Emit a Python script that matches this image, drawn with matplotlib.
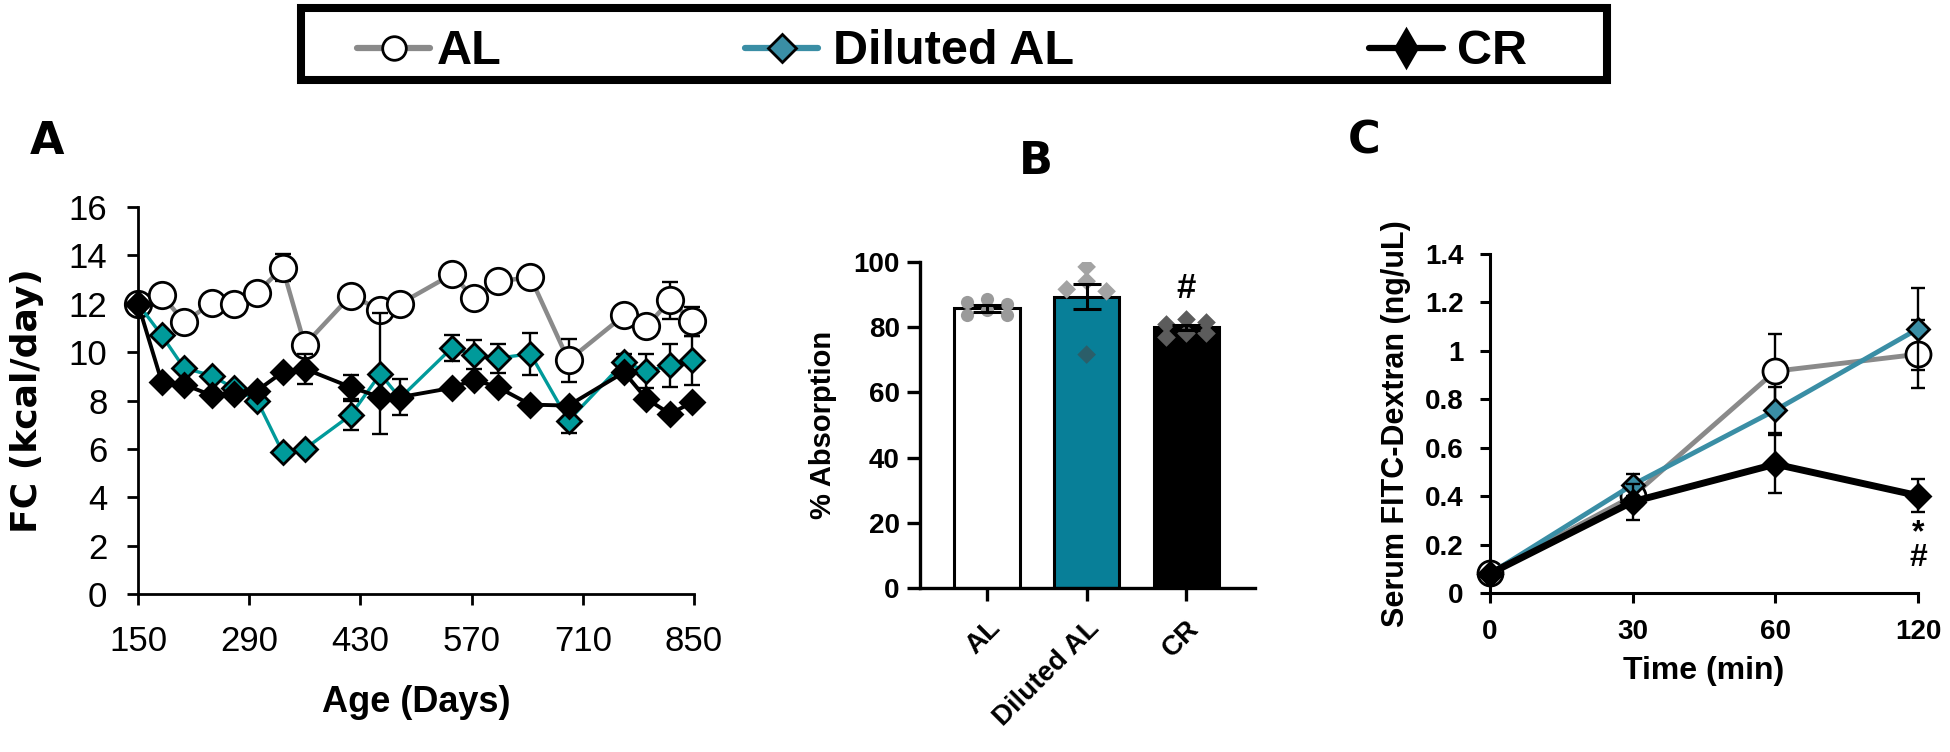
import numpy as np
import matplotlib.pyplot as plt
from matplotlib.patches import Rectangle
from matplotlib.lines import Line2D
from matplotlib.ticker import FuncFormatter

plt.rcParams['font.family'] = ['Liberation Sans', 'DejaVu Sans']
VERDANA = ['DejaVu Sans']

# ---- panel A: food consumption vs age ----
age_days = [150, 180, 208, 243, 271, 300, 332, 360, 418, 455, 480,
            545, 573, 603, 644, 692, 762, 790, 820, 848]
fc_al = [12.0, 12.37, 11.24, 12.03, 12.0, 12.46, 13.49, 10.30, 12.34, 11.75, 12.0,
         13.21, 12.25, 12.92, 13.10, 9.66, 11.52, 11.06, 12.14, 11.28]
fc_al_err = [0, 0, 0, 0, 0, 0, 0.55, 0, 0, 0, 0,
             0, 0, 0, 0, 0.9, 0, 0, 0.75, 0.6]
fc_dil = [12.0, 10.69, 9.34, 9.03, 8.5, 8.0, 5.86, 6.0, 7.4, 9.1, 8.1,
          10.17, 9.9, 9.75, 9.93, 7.17, 9.59, 9.21, 9.45, 9.66]
fc_dil_err = [0, 0, 0, 0, 0, 0, 0, 0, 0.6, 2.5, 0,
              0.54, 0.6, 0.6, 0.86, 0.5, 0.35, 0.7, 0.9, 1.0]
fc_cr = [12.0, 8.76, 8.66, 8.21, 8.28, 8.41, 9.17, 9.31, 8.55, 8.14, 8.14,
         8.52, 8.86, 8.55, 7.83, 7.79, 9.17, 8.07, 7.45, 7.93]
fc_cr_err = [0, 0, 0, 0, 0, 0, 0, 0.62, 0.5, 0, 0.75,
             0, 0, 0, 0, 0, 0, 0, 0, 0]

# ---- panel B: % absorption ----
groups = ['AL', 'Diluted AL', 'CR']
absorb_mean = [85.8, 89.3, 80.0]
absorb_sem = [1.0, 3.8, 0.8]
absorb_al_pts = [87.7, 88.8, 87.0, 83.6, 85.2, 83.6]
absorb_dil_pts = [98.5, 91.6, 94.1, 91.0, 71.6]
absorb_cr_pts = [81.1, 82.4, 81.6, 77.0, 78.2, 78.2]

# ---- panel C: FITC-dextran ----
time_labels = ['0', '30', '60', '120']
fitc_al = [0.084, 0.40, 0.916, 0.986]
fitc_al_err = [0, 0, 0.155, 0.14]
fitc_dil = [0.08, 0.447, 0.755, 1.091]
fitc_dil_err = [0, 0.045, 0.095, 0.17]
fitc_cr = [0.08, 0.377, 0.532, 0.402]
fitc_cr_err = [0, 0.075, 0.12, 0.068]

GRAY = '#8a8a8a'
TEAL_A = '#009a9a'
TEAL_C = '#3a8ea5'
TEAL_BAR = '#087f98'

W, H = 1950, 752
fig = plt.figure(figsize=(W / 100, H / 100), dpi=100)


def box(l, r, t, b):
    return [l / W, 1 - b / H, (r - l) / W, (b - t) / H]


def series(ax, x, y, err, color, marker, mfc, ms, lw, z, cap=6):
    x = np.asarray(x, float)
    y = np.asarray(y, float)
    err = np.asarray(err, float)
    ax.plot(x, y, color=color, lw=lw, zorder=z, clip_on=False)
    has = err > 0
    if has.any():
        ax.errorbar(x[has], y[has], yerr=err[has], fmt='none', ecolor='black',
                    elinewidth=1.7, capsize=cap, capthick=1.7, zorder=z + 0.5, clip_on=False)
    ax.plot(x, y, ls='none', marker=marker, mfc=mfc, mec='black', mew=2,
            ms=ms, zorder=z + 1, clip_on=False)


# ---------- A ----------
axA = fig.add_axes(box(138, 694, 207, 594))
series(axA, age_days, fc_al, fc_al_err, GRAY, 'o', 'white', 19, 3.2, 2)
series(axA, age_days, fc_dil, fc_dil_err, TEAL_A, 'D', TEAL_A, 12, 2.4, 4)
series(axA, age_days, fc_cr, fc_cr_err, 'black', 'D', 'black', 12.5, 2.8, 6)
axA.set_xlim(150, 850)
axA.set_ylim(0, 16)
axA.set_xticks(range(150, 851, 140))
axA.set_yticks(range(0, 17, 2))
for s in ['top', 'right']:
    axA.spines[s].set_visible(False)
for s in ['left', 'bottom']:
    axA.spines[s].set_linewidth(2)
axA.tick_params(direction='out', length=8, width=2, labelsize=25, pad=14)
axA.set_xlabel('Age (Days)', fontsize=26, fontweight='bold', labelpad=20)
axA.set_ylabel('FC (kcal/day)', fontsize=26, fontweight='bold', family=VERDANA, labelpad=18)

# ---------- B ----------
axB = fig.add_axes(box(920, 1255, 262, 588))
xb = np.arange(len(groups))
axB.bar(xb, absorb_mean, width=0.655, color=['white', TEAL_BAR, 'black'],
        edgecolor='black', linewidth=2.2, zorder=2)
axB.errorbar(xb, absorb_mean, yerr=absorb_sem, fmt='none', ecolor='black',
             elinewidth=2.2, capsize=10, capthick=2.2, zorder=5)
offs_al = [-0.2, 0, 0.2, -0.2, 0, 0.2]
offs_dil = [0, -0.2, 0, 0.2, 0]
offs_cr = [-0.2, 0, 0.2, -0.2, 0, 0.2]
axB.scatter(xb[0] + np.array(offs_al), absorb_al_pts, s=90, marker='o',
            color='#9a9a9a', zorder=4, linewidths=0)
dil_cols = ['#a3a3a3' if v > absorb_mean[1] else '#2b5e69' for v in absorb_dil_pts]
axB.scatter(xb[1] + np.array(offs_dil), absorb_dil_pts, s=90, marker='D',
            color=dil_cols, zorder=4, linewidths=0)
axB.scatter(xb[2] + np.array(offs_cr), absorb_cr_pts, s=90, marker='D',
            color='#5c5c5c', zorder=4, linewidths=0)
axB.text(xb[2], 92, '#', ha='center', va='center', fontsize=25, fontweight='bold')
axB.set_xlim(-0.673, 2.69)
axB.set_ylim(0, 100)
axB.set_yticks(range(0, 101, 20))
axB.set_xticks(xb)
axB.set_xticklabels(groups, rotation=45, ha='right', va='top', rotation_mode='anchor',
                    fontsize=22, fontweight='bold')
for s in ['top', 'right']:
    axB.spines[s].set_visible(False)
for s in ['left', 'bottom']:
    axB.spines[s].set_linewidth(2.4)
axB.tick_params(direction='out', length=9.5, width=2.4, labelsize=20, pad=5)
axB.tick_params(axis='x', pad=10)
for t in axB.get_yticklabels():
    t.set_fontweight('bold')
axB.set_ylabel('% Absorption', fontsize=21, fontweight='bold', labelpad=12)

# ---------- C ----------
axC = fig.add_axes(box(1490, 1918, 254, 593))
xc = np.arange(len(time_labels))
series(axC, xc, fitc_al, fitc_al_err, GRAY, 'o', 'white', 18, 3.5, 2, cap=5)
series(axC, xc, fitc_dil, fitc_dil_err, TEAL_C, 'D', TEAL_C, 11.5, 3.5, 4, cap=5)
series(axC, xc, fitc_cr, fitc_cr_err, 'black', 'D', 'black', 12, 5, 6, cap=5)
# significance marks under the CR point at 120 min
axC.text(xc[3], 0.31, '*\n#', ha='center', va='top', fontsize=23, fontweight='bold',
         linespacing=0.8)
axC.set_xlim(0, 3)
axC.set_ylim(0, 1.4)
axC.set_yticks(np.arange(0, 1.41, 0.2))
axC.yaxis.set_major_formatter(FuncFormatter(lambda v, p: '%g' % round(v, 1)))
axC.set_xticks(xc)
axC.set_xticklabels(time_labels)
for s in ['top', 'right']:
    axC.spines[s].set_visible(False)
for s in ['left', 'bottom']:
    axC.spines[s].set_linewidth(2.2)
axC.tick_params(direction='out', length=7, width=2.2, labelsize=20, pad=12)
for t in axC.get_xticklabels() + axC.get_yticklabels():
    t.set_fontweight('bold')
axC.set_xlabel('Time (min)', fontsize=23, fontweight='bold', labelpad=8)
axC.set_ylabel('Serum FITC-Dextran (ng/uL)', fontsize=22, fontweight='bold', labelpad=10)

# panel letters
fig.text(47 / W, 1 - 141 / H, 'A', fontsize=32, fontweight='bold', family=VERDANA, ha='center', va='center')
fig.text(1036 / W, 1 - 162 / H, 'B', fontsize=32, fontweight='bold', family=VERDANA, ha='center', va='center')
fig.text(1364 / W, 1 - 141 / H, 'C', fontsize=32, fontweight='bold', family=VERDANA, ha='center', va='center')

# legend box on top
fig.add_artist(Rectangle((301 / W, 1 - 80 / H), (1607 - 301) / W, 72 / H,
                         transform=fig.transFigure, fill=False, ec='black', lw=5.8))
legend_items = [
    ('AL', GRAY, 'o', 'white', 17, 357, 430, 437),
    ('Diluted AL', TEAL_C, 'D', TEAL_C, 14, 745, 818, 833),
    ('CR', 'black', 'd', 'black', 19, 1369, 1443, 1457),
]
yl = 1 - 48 / H
for name, col, mk, fc, ms, x0, x1, xt in legend_items:
    fig.add_artist(Line2D([x0 / W, x1 / W], [yl, yl], transform=fig.transFigure,
                          color=col, lw=4.5, solid_capstyle='round'))
    fig.add_artist(Line2D([(x0 + x1) / 2 / W], [yl], transform=fig.transFigure,
                          marker=mk, ms=ms, mfc=fc, mec='black', mew=2, ls='none'))
    fig.text(xt / W, 1 - 64 / H, name, fontsize=35, fontweight='bold',
             ha='left', va='baseline')

fig.savefig('out.png', dpi=100)
